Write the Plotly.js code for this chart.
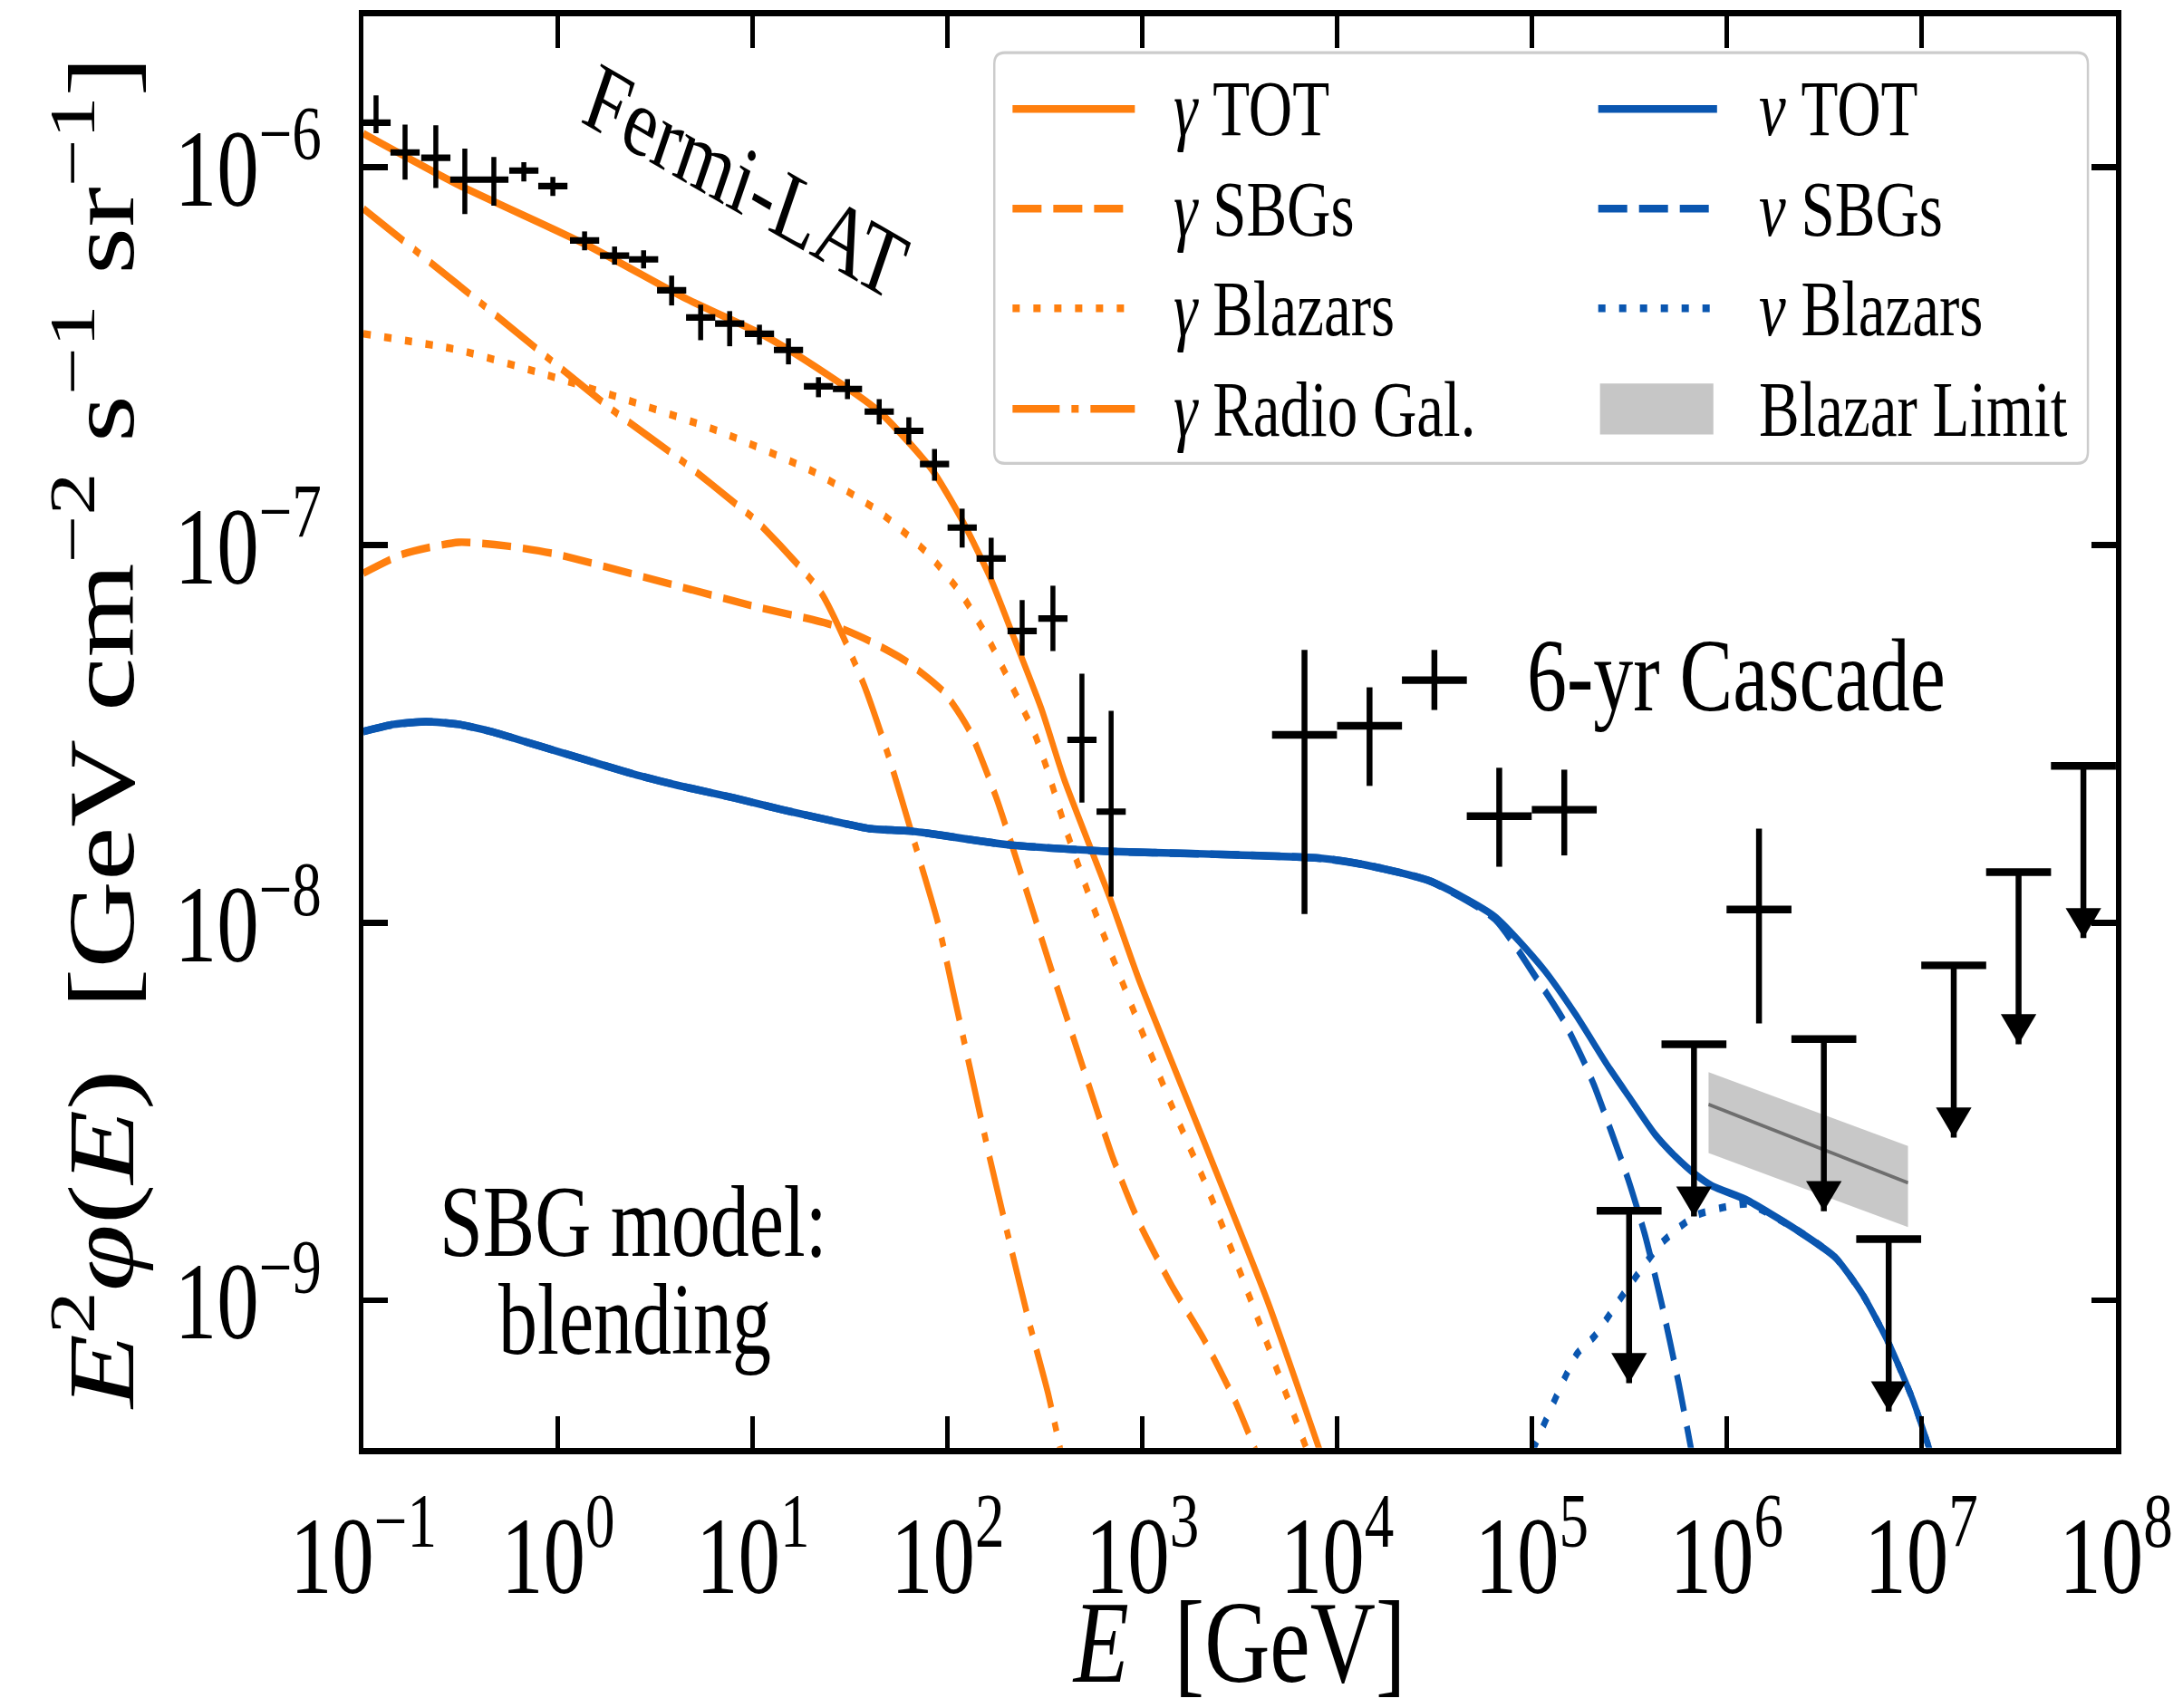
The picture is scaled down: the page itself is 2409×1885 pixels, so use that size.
<!DOCTYPE html>
<html>
<head>
<meta charset="utf-8">
<script src="https://cdn.plot.ly/plotly-3.0.1.min.js"></script>
<style>
html, body { margin:0; padding:0; background:#ffffff; overflow:hidden; }
#wrap { width:2409px; height:1885px; overflow:hidden; background:#fff; }
#chart { width:2409px; height:1450px; transform:scaleY(1.3); transform-origin:0 0; }
</style>
</head>
<body>
<div id="wrap"><div id="chart"></div></div>
<script>
// ---------------- data ----------------
// x: log10(E / GeV), y: log10(E^2 phi / GeV cm^-2 s^-1 sr^-1)
const gammaTotLogE = [-1.0, -0.511, 0.155, 0.653, 1.067, 1.318, 1.649, 1.919, 2.068, 2.217, 2.347, 2.482, 2.599, 2.831, 2.980, 3.315, 3.646, 3.911];
const gammaTotLogF = [-5.911, -6.047, -6.208, -6.347, -6.448, -6.527, -6.647, -6.800, -6.928, -7.084, -7.254, -7.434, -7.621, -7.931, -8.147, -8.577, -9.006, -9.397];

const gammaSbgLogE = [-1.0, -0.795, -0.511, -0.260, -0.013, 0.485, 0.988, 1.402, 1.598, 1.784, 1.984, 2.115, 2.250, 2.385, 2.547, 2.696, 2.850, 2.980, 3.148, 3.315, 3.478, 3.581];
const gammaSbgLogF = [-7.075, -7.024, -6.993, -7.003, -7.024, -7.091, -7.160, -7.211, -7.254, -7.307, -7.391, -7.494, -7.669, -7.883, -8.147, -8.384, -8.624, -8.790, -8.958, -9.102, -9.268, -9.397];

const gammaBlzLogE = [-1.0, -0.511, -0.097, 0.322, 0.820, 1.318, 1.649, 1.900, 2.068, 2.198, 2.315, 2.450, 2.515, 2.616, 2.780, 2.980, 3.148, 3.348, 3.562, 3.814, 3.846];
const gammaBlzLogF = [-6.441, -6.484, -6.544, -6.611, -6.698, -6.808, -6.912, -7.024, -7.128, -7.238, -7.358, -7.504, -7.600, -7.766, -8.003, -8.265, -8.481, -8.720, -9.006, -9.352, -9.397];

const gammaRgLogE = [-1.0, -0.427, -0.061, 0.290, 0.653, 0.918, 1.020, 1.351, 1.568, 1.700, 1.817, 1.952, 2.034, 2.115, 2.217, 2.315, 2.417, 2.515, 2.580];
const gammaRgLogF = [-6.110, -6.347, -6.501, -6.647, -6.784, -6.894, -6.937, -7.127, -7.367, -7.564, -7.765, -8.003, -8.195, -8.385, -8.624, -8.838, -9.054, -9.244, -9.397];

const nuTotLogE = [-1.0, -0.843, -0.679, -0.511, -0.344, -0.097, 0.155, 0.404, 0.653, 0.905, 1.151, 1.402, 1.598, 1.817, 2.315, 2.813, 3.315, 3.926, 4.144, 4.478, 4.810, 5.060, 5.225, 5.392, 5.494, 5.634, 5.739, 5.839, 5.927, 6.099, 6.356, 6.560, 6.700, 6.838, 6.959, 7.045];
const nuTotLogF = [-7.494, -7.475, -7.468, -7.475, -7.494, -7.532, -7.571, -7.609, -7.641, -7.670, -7.701, -7.730, -7.751, -7.758, -7.794, -7.811, -7.818, -7.830, -7.847, -7.890, -7.984, -8.123, -8.243, -8.380, -8.457, -8.561, -8.620, -8.666, -8.697, -8.733, -8.812, -8.887, -8.985, -9.119, -9.266, -9.398];

const nuSbgLogE = [-1.0, -0.843, -0.679, -0.511, -0.344, -0.097, 0.155, 0.404, 0.653, 0.905, 1.151, 1.402, 1.598, 1.817, 2.315, 2.813, 3.315, 3.926, 4.144, 4.478, 4.810, 5.024, 5.159, 5.266, 5.322, 5.494, 5.580, 5.667, 5.753, 5.820];
const nuSbgLogF = [-7.494, -7.475, -7.468, -7.475, -7.494, -7.532, -7.571, -7.609, -7.641, -7.670, -7.701, -7.730, -7.751, -7.758, -7.794, -7.811, -7.818, -7.830, -7.847, -7.890, -7.990, -8.147, -8.255, -8.366, -8.433, -8.678, -8.824, -9.008, -9.216, -9.398];

const nuBlzLogE = [5.005, 5.233, 5.322, 5.485, 5.667, 5.839, 6.011, 6.114, 6.356, 6.560, 6.700, 6.838, 6.959, 7.045];
const nuBlzLogF = [-9.397, -9.141, -9.095, -8.973, -8.848, -8.776, -8.751, -8.745, -8.812, -8.887, -8.985, -9.119, -9.266, -9.398];

const blazarLimitLogE = [5.908, 6.932];
const blazarLimitLogFUpper = [-8.396, -8.591];
const blazarLimitLogFLower = [-8.610, -8.806];
const blazarLimitLogFBest = [-8.481, -8.689];

// Fermi-LAT points
const fermiLogE = [-0.935, -0.786, -0.628, -0.479, -0.330, -0.176, -0.027, 0.136, 0.290, 0.439, 0.583, 0.732, 0.881, 1.034, 1.183, 1.337, 1.486, 1.649, 1.801, 1.933, 2.075, 2.224, 2.383, 2.541, 2.690, 2.840];
const fermiLogF = [-5.882, -5.961, -5.975, -6.033, -6.033, -6.009, -6.050, -6.194, -6.234, -6.244, -6.326, -6.398, -6.414, -6.441, -6.484, -6.580, -6.587, -6.647, -6.698, -6.786, -6.954, -7.036, -7.228, -7.195, -7.516, -7.706];
const fermiLogFHi = [-5.810, -5.887, -5.889, -5.951, -5.973, -5.987, -6.026, -6.170, -6.210, -6.220, -6.287, -6.364, -6.381, -6.417, -6.453, -6.556, -6.561, -6.614, -6.662, -6.746, -6.904, -6.981, -7.146, -7.108, -7.341, -7.439];
const fermiLogFLo = [-5.910, -6.033, -6.055, -6.124, -6.102, -6.038, -6.076, -6.220, -6.258, -6.268, -6.366, -6.458, -6.474, -6.470, -6.522, -6.609, -6.614, -6.681, -6.734, -6.830, -7.007, -7.091, -7.293, -7.281, -7.682, -7.931];
const fermiBinHalfDex = 0.075;

// IceCube 6-yr cascade points and upper limits
const cascLogE = [3.833, 4.167, 4.500, 4.833, 5.167, 6.167];
const cascLogF = [-7.503, -7.479, -7.358, -7.718, -7.701, -7.965];
const cascLogFHi = [-7.278, -7.377, -7.278, -7.590, -7.595, -7.751];
const cascLogFLo = [-7.977, -7.638, -7.437, -7.852, -7.822, -8.267];
const cascUlLogE = [5.500, 5.833, 6.500, 6.833, 7.167, 7.500, 7.833];
const cascUlLogF = [-8.763, -8.322, -8.308, -8.838, -8.113, -7.866, -7.585];
const cascBinHalfDex = 0.1667;

// ---------------- styling ----------------
const FONT = "'Liberation Serif', 'Times New Roman', serif";
const ORANGE = '#ff7f0e';
const BLUE = '#0a56b0';
const LW = 6.5;
const DASH = '32px,13px';
const DOT = '8px,15px';
const DASHDOT = '52px,13px,8px,13px';
const W = 2409, H = 1450;
const M = {l: 401, r: 74, t: 14, b: 221};
const Y_RANGE = [-9.39, -5.601];
const X_RANGE = [-1, 8];
const ARROW_DEX = 0.456;
const HEAD = 34;
const pxPerDex = (H - M.t - M.b) / (Y_RANGE[1] - Y_RANGE[0]);

const p10 = v => Math.pow(10, v);

function curve(lx, ly, color, dash) {
  return {type:'scatter', mode:'lines', x: lx.map(p10), y: ly.map(p10),
    line:{color: color, width: LW, dash: dash, shape:'spline', smoothing:0.6}, hoverinfo:'skip', showlegend:false};
}
function errPoints(lx, ly, lhi, llo, halfDex, thick) {
  const x = lx.map(p10), y = ly.map(p10);
  return {type:'scatter', mode:'markers', x: x, y: y, showlegend:false, hoverinfo:'skip',
    marker:{size:1, color:'rgba(0,0,0,0)'},
    error_y:{type:'data', symmetric:false, array: lhi.map((h,i)=>p10(h)-y[i]),
      arrayminus: llo.map((l,i)=>y[i]-p10(l)), width:0, thickness:thick, color:'#000'},
    error_x:{type:'data', symmetric:false, array: x.map(v=>v*(p10(halfDex)-1)),
      arrayminus: x.map(v=>v*(1-p10(-halfDex))), width:0, thickness:thick, color:'#000'}};
}

const traces = [
  curve(gammaRgLogE, gammaRgLogF, ORANGE, DASHDOT),
  curve(gammaSbgLogE, gammaSbgLogF, ORANGE, DASH),
  curve(gammaBlzLogE, gammaBlzLogF, ORANGE, DOT),
  curve(gammaTotLogE, gammaTotLogF, ORANGE, 'solid'),
  curve(nuBlzLogE, nuBlzLogF, BLUE, DOT),
  curve(nuSbgLogE, nuSbgLogF, BLUE, DASH),
  curve(nuTotLogE, nuTotLogF, BLUE, 'solid'),
  {type:'scatter', mode:'lines', x: blazarLimitLogE.map(p10), y: blazarLimitLogFUpper.map(p10),
    line:{width:0, color:'rgba(0,0,0,0)'}, hoverinfo:'skip', showlegend:false},
  {type:'scatter', mode:'lines', x: blazarLimitLogE.map(p10), y: blazarLimitLogFLower.map(p10),
    fill:'tonexty', fillcolor:'rgba(160,160,160,0.58)', line:{width:0, color:'rgba(0,0,0,0)'},
    hoverinfo:'skip', showlegend:false},
  {type:'scatter', mode:'lines', x: blazarLimitLogE.map(p10), y: blazarLimitLogFBest.map(p10),
    line:{width:3, color:'#6e6e6e'}, hoverinfo:'skip', showlegend:false},
  errPoints(fermiLogE, fermiLogF, fermiLogFHi, fermiLogFLo, fermiBinHalfDex, 5.5),
  errPoints(cascLogE, cascLogF, cascLogFHi, cascLogFLo, cascBinHalfDex, 6.5),
  // upper limits: bar + shaft
  (function(){
    const x = cascUlLogE.map(p10), y = cascUlLogF.map(p10);
    return {type:'scatter', mode:'markers', x: x, y: y, showlegend:false, hoverinfo:'skip',
      marker:{size:1, color:'rgba(0,0,0,0)'},
      error_y:{type:'data', symmetric:false, array: y.map(()=>0),
        arrayminus: y.map(v=>v*(1-p10(-ARROW_DEX))), width:0, thickness:6.5, color:'#000'},
      error_x:{type:'data', symmetric:false, array: x.map(v=>v*(p10(cascBinHalfDex)-1)),
        arrayminus: x.map(v=>v*(1-p10(-cascBinHalfDex))), width:0, thickness:6.5, color:'#000'}};
  })(),
  // arrow heads
  {type:'scatter', mode:'markers', x: cascUlLogE.map(p10),
    y: cascUlLogF.map(v => p10(v - ARROW_DEX + (HEAD/2)/pxPerDex)),
    marker:{symbol:'triangle-down', size:HEAD, color:'#000', line:{width:0}},
    hoverinfo:'skip', showlegend:false}
];

// ---------------- custom legend (paper coords) ----------------
const legRows = [0.9354, 0.8657, 0.7961, 0.7258];
const legCol1 = [0.3704, 0.4402], legCol2 = [0.7046, 0.7724];
const legTextX = [0.461, 0.795];
const legItems = [
  {col:0, row:0, color:ORANGE, dash:'solid', text:'<i>γ</i> TOT'},
  {col:0, row:1, color:ORANGE, dash:DASH, text:'<i>γ</i> SBGs'},
  {col:0, row:2, color:ORANGE, dash:DOT, text:'<i>γ</i> Blazars'},
  {col:0, row:3, color:ORANGE, dash:DASHDOT, text:'<i>γ</i> Radio Gal.'},
  {col:1, row:0, color:BLUE, dash:'solid', text:'<i>ν</i> TOT'},
  {col:1, row:1, color:BLUE, dash:DASH, text:'<i>ν</i> SBGs'},
  {col:1, row:2, color:BLUE, dash:DOT, text:'<i>ν</i> Blazars'},
  {col:1, row:3, color:null, dash:null, text:'Blazar Limit'}
];
const bx0 = 0.360, bx1 = 0.984, by0 = 0.6878, by1 = 0.9747, rx = 0.006, ry = 0.008;
const shapes = [{type:'path', xref:'paper', yref:'paper', layer:'above',
  path:`M${bx0+rx},${by0} L${bx1-rx},${by0} Q${bx1},${by0} ${bx1},${by0+ry} L${bx1},${by1-ry} Q${bx1},${by1} ${bx1-rx},${by1} L${bx0+rx},${by1} Q${bx0},${by1} ${bx0},${by1-ry} L${bx0},${by0+ry} Q${bx0},${by0} ${bx0+rx},${by0} Z`,
  line:{color:'#cccccc', width:2.5}, fillcolor:'rgba(255,255,255,0.85)'}];
const annotations = [];
legItems.forEach(it => {
  const cx = it.col === 0 ? legCol1 : legCol2;
  const y = legRows[it.row];
  if (it.color) {
    shapes.push({type:'line', xref:'paper', yref:'paper', layer:'above', x0:cx[0], x1:cx[1], y0:y, y1:y,
      line:{color:it.color, width:LW, dash:it.dash}});
  } else {
    shapes.push({type:'rect', xref:'paper', yref:'paper', layer:'above', x0:0.7056, x1:0.7703, y0:0.708, y1:0.7435,
      line:{width:0}, fillcolor:'#c6c6c6'});
  }
  annotations.push({xref:'paper', yref:'paper', x:legTextX[it.col], y:y, xanchor:'left', yanchor:'middle',
    text:it.text, showarrow:false, font:{family:FONT, size:67, color:'#000'}});
});

annotations.push(
  {xref:'x', yref:'y', x:0.965, y:-6.038, text:'Fermi-LAT', textangle:24, showarrow:false,
    xanchor:'center', yanchor:'middle', font:{family:FONT, size:83, color:'#000'}},
  {xref:'x', yref:'y', x:6.051, y:-7.346, text:'6-yr Cascade', showarrow:false,
    xanchor:'center', yanchor:'middle', font:{family:FONT, size:88, color:'#000'}},
  {xref:'x', yref:'y', x:0.387, y:-8.790, text:'SBG model:', showarrow:false,
    xanchor:'center', yanchor:'middle', font:{family:FONT, size:86, color:'#000'}},
  {xref:'x', yref:'y', x:0.395, y:-9.050, text:'blending', showarrow:false,
    xanchor:'center', yanchor:'middle', font:{family:FONT, size:86, color:'#000'}}
);

const xTickVals = [-1,0,1,2,3,4,5,6,7,8];
const yTickVals = [-9,-8,-7,-6];
const supLabel = n => '10<sup>' + (n < 0 ? '−' + Math.abs(n) : n) + '</sup>';

const axisCommon = {type:'log', showgrid:false, zeroline:false, showline:true, linewidth:5.5, linecolor:'#000',
  mirror:'ticks', ticks:'inside', ticklen:27, tickwidth:5, tickcolor:'#000'};

const layout = {
  width: W, height: H, margin: M, paper_bgcolor:'#ffffff', plot_bgcolor:'#ffffff',
  showlegend:false, font:{family:FONT, color:'#000'},
  xaxis: Object.assign({}, axisCommon, {range: X_RANGE, tickvals: xTickVals.map(p10), ticktext: xTickVals.map(supLabel),
    tickfont:{family:FONT, size:93}, ticklabelstandoff: 6,
    title:{text:'<i>E</i>  [GeV]', font:{family:FONT, size:100}, standoff: 24}}),
  yaxis: Object.assign({}, axisCommon, {range: Y_RANGE, tickvals: yTickVals.map(p10), ticktext: yTickVals.map(supLabel),
    tickfont:{family:FONT, size:93}, ticklabelstandoff: 22,
    title:{text:'<i>E</i><sup>2</sup><i>φ</i>(<i>E</i>)  [GeV cm<sup>−2</sup> s<sup>−1</sup> sr<sup>−1</sup>]', font:{family:FONT, size:103}, standoff: 12}}),
  shapes: shapes, annotations: annotations
};

Plotly.newPlot('chart', traces, layout, {displayModeBar:false, staticPlot:true});
</script>
</body>
</html>
